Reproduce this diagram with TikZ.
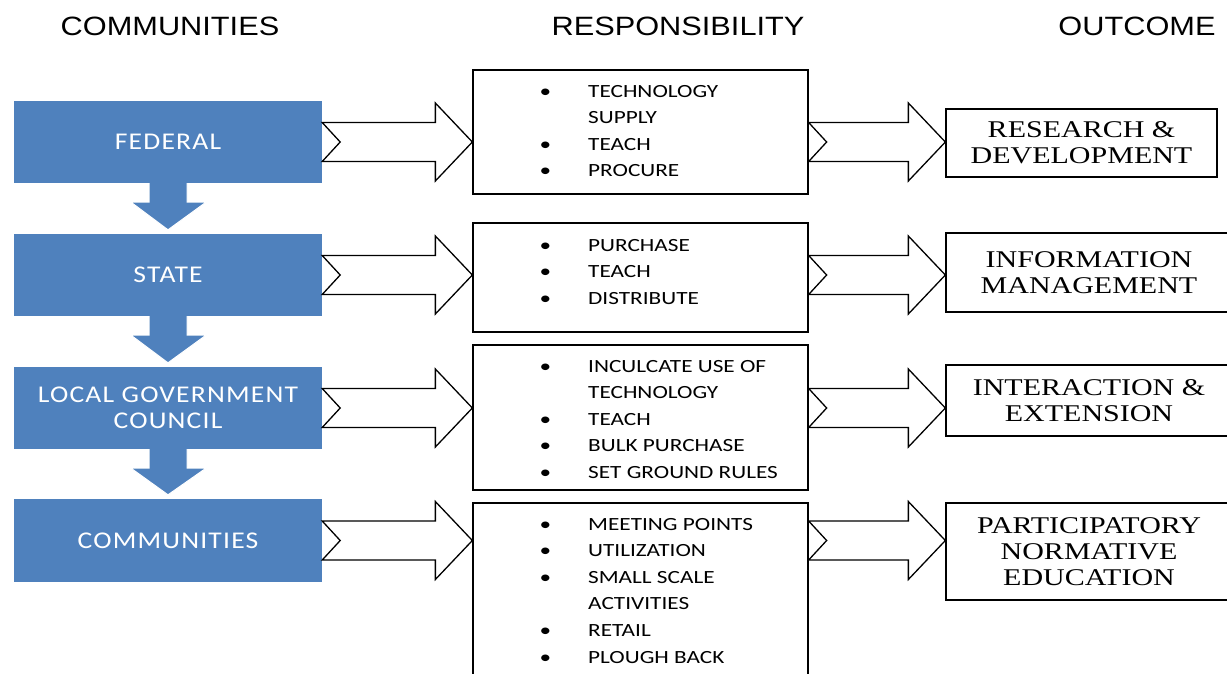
\documentclass[tikz,border=0pt]{standalone}
\usepackage{fontspec}
\usetikzlibrary{calc}
\newfontfamily\hdrfont[FakeStretch=1.16]{Liberation Sans}
\newfontfamily\listfont[FakeStretch=1.25]{Carlito}
\newfontfamily\bluefont[FakeStretch=1.15,LetterSpace=5]{Carlito}
\newfontfamily\outfont[FakeStretch=1.25]{Liberation Serif}
\definecolor{boxblue}{HTML}{4F81BD}
\newcommand{\bul}{\llap{\textbullet\hspace{37pt}}}
\tikzset{
  bluebox/.style={fill=boxblue, text=white, minimum width=308pt, minimum height=82pt, inner sep=0pt, align=center, font=\bluefont\fontsize{24}{26}\selectfont},
  respbox/.style={draw, line width=1.3pt, minimum width=335pt, inner sep=0pt},
  outbox/.style={draw, line width=1.3pt, inner sep=0pt, align=center, font=\outfont\fontsize{24}{26}\selectfont},
  hdr/.style={anchor=base, inner sep=0pt, font=\hdrfont\fontsize{26.5}{30}\selectfont},
  blist/.style={anchor=base west, inner sep=0pt, font=\listfont\fontsize{18.6}{26.6}\selectfont},
  downarr/.style={fill=boxblue, draw=white, line width=1pt},
  blockarr/.style={fill=white, draw=black, line width=1.3pt, line join=miter},
}
\newcommand{\blockarrow}[3]{%
  \draw[blockarr] let \p1=(#1.east), \p2=(#2.west), \p3=(#3.center) in
    (\x1,\y3+19.5pt) -- (\x2-37pt,\y3+19.5pt) -- (\x2-37pt,\y3+39pt) -- (\x2,\y3)
    -- (\x2-37pt,\y3-39pt) -- (\x2-37pt,\y3-19.5pt) -- (\x1,\y3-19.5pt) -- (\x1+18pt,\y3) -- cycle;}
\newcommand{\flowdown}[2]{%
  \path[downarr] let \p1=(#1.south), \p2=(#2.north) in
    (\x1-19pt,\y1) -- (\x1-19pt,\y1-19pt) -- (\x1-37pt,\y1-19pt) -- (\x1,\y2+4pt)
    -- (\x1+38pt,\y1-19pt) -- (\x1+19pt,\y1-19pt) -- (\x1+19pt,\y1);}
\begin{document}
\begin{tikzpicture}[x=1pt,y=-1pt]
\useasboundingbox (0,0) rectangle (1227,673);
\clip (0,0) rectangle (1227,673);
\fill[white] (0,0) rectangle (1227,673);

% headers
\node[hdr] (h1) at (170,35) {COMMUNITIES};
\node[hdr] (h2) at (678,35) {RESPONSIBILITY};
\node[hdr] (h3) at (1137,35) {OUTCOME};

% blue boxes
\node[bluebox] (fed) at (168,142) {FEDERAL};
\node[bluebox] (sta) at (168,275) {STATE};
\node[bluebox] (lgc) at (168,408) {LOCAL GOVERNMENT\\COUNCIL};
\node[bluebox, minimum height=83pt] (com) at (168,540.5) {COMMUNITIES};

\flowdown{fed}{sta}
\flowdown{sta}{lgc}
\flowdown{lgc}{com}

% responsibility boxes
\node[respbox, minimum height=124pt] (r1) at (640.5,132) {};
\node[respbox, minimum height=109pt] (r2) at (640.5,277.5) {};
\node[respbox, minimum height=145pt] (r3) at (640.5,417.5) {};
\node[respbox, minimum height=197pt] (r4) at (640.5,601.5) {};

\node[blist] (l1) at (588,97) {\begin{tabular}[t]{@{}l@{}}\bul TECHNOLOGY\\ SUPPLY\\ \bul TEACH\\ \bul PROCURE\end{tabular}};
\node[blist] (l2) at (588,251) {\begin{tabular}[t]{@{}l@{}}\bul PURCHASE\\ \bul TEACH\\ \bul DISTRIBUTE\end{tabular}};
\node[blist] (l3) at (588,372) {\begin{tabular}[t]{@{}l@{}}\bul INCULCATE USE OF\\ TECHNOLOGY\\ \bul TEACH\\ \bul BULK PURCHASE\\ \bul SET GROUND RULES\end{tabular}};
\node[blist] (l4) at (588,530) {\begin{tabular}[t]{@{}l@{}}\bul MEETING POINTS\\ \bul UTILIZATION\\ \bul SMALL SCALE\\ ACTIVITIES\\ \bul RETAIL\\ \bul PLOUGH BACK\end{tabular}};

% outcome boxes
\node[outbox, minimum width=271pt, minimum height=68pt] (o1) at (1081.5,143) {RESEARCH \&\\DEVELOPMENT};
\node[outbox, minimum width=286pt, minimum height=79pt] (o2) at (1089,272.5) {INFORMATION\\MANAGEMENT};
\node[outbox, minimum width=286pt, minimum height=71pt] (o3) at (1089,400.5) {INTERACTION \&\\EXTENSION};
\node[outbox, minimum width=286pt, minimum height=97pt] (o4) at (1089,551.5) {PARTICIPATORY\\NORMATIVE\\EDUCATION};

% block arrows
\blockarrow{fed}{r1}{fed}
\blockarrow{sta}{r2}{sta}
\blockarrow{lgc}{r3}{lgc}
\blockarrow{com}{r4}{com}
\blockarrow{r1}{o1}{fed}
\blockarrow{r2}{o2}{sta}
\blockarrow{r3}{o3}{lgc}
\blockarrow{r4}{o4}{com}
\end{tikzpicture}
\end{document}
